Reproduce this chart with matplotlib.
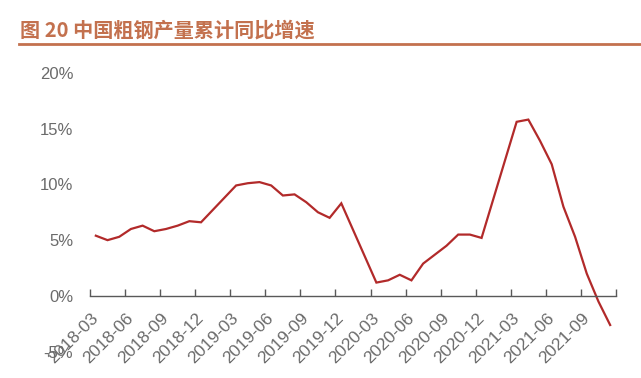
import numpy as np
import matplotlib
matplotlib.use("Agg")
import matplotlib.pyplot as plt
from matplotlib.ticker import FuncFormatter

# 粗钢产量累计同比 (%), 2018-03 .. 2021-11; Jan/Feb not published -> nan
months = [f"{y}-{m:02d}" for y in range(2018, 2022) for m in range(1, 13)][2:47]
growth = [
    5.4, 5.0, 5.3, 6.0, 6.3, 5.8, 6.0, 6.3, 6.7, 6.6,          # 2018-03..12
    np.nan, np.nan, 9.9, 10.1, 10.2, 9.9, 9.0, 9.1, 8.4, 7.5, 7.0, 8.3,   # 2019
    np.nan, np.nan, 1.2, 1.4, 1.9, 1.4, 2.9, 3.7, 4.5, 5.5, 5.5, 5.2,     # 2020
    np.nan, np.nan, 15.6, 15.8, 13.9, 11.8, 8.0, 5.3, 2.0, -0.5, -2.6,    # 2021-01..11
]
yticks = [-5, 0, 5, 10, 15, 20]

title = "图 20 中国粗钢产量累计同比增速"
title_color = "#C3714E"
line_color = "#B22A2A"
text_gray = "#6B6B6B"

plt.rcParams["font.family"] = ["Liberation Sans", "DejaVu Sans"]

fig = plt.figure(figsize=(6.41, 3.78), dpi=100)
ax = fig.add_axes([0.1404, 0.0693, 0.8206, 0.7384])

x = np.arange(len(months))
v = np.array(growth, dtype=float)
ok = ~np.isnan(v)
ax.plot(x[ok], v[ok], color=line_color, lw=1.6, solid_joinstyle="miter")

ax.set_xlim(-0.5, len(months) - 0.5)
ax.set_ylim(-5, 20)

for s in ["top", "right", "left"]:
    ax.spines[s].set_visible(False)
ax.spines["bottom"].set_position(("data", 0))
ax.spines["bottom"].set_color("#595959")
ax.spines["bottom"].set_linewidth(1.0)

# ticks between categories every 3 months, labels on the category
ax.set_xticks(np.arange(-0.5, len(months), 3))
ax.set_xticklabels([])
ax.tick_params(axis="x", which="major", direction="in", length=5, color="#595959", width=1.0)
lab_pos = x[::3]
ax.set_xticks(lab_pos, minor=True)
ax.set_xticklabels([months[i] for i in lab_pos], minor=True, rotation=45,
                   ha="right", va="center", rotation_mode="anchor",
                   color=text_gray, fontsize=12.5)
ax.tick_params(axis="x", which="minor", length=0, pad=14)

ax.set_yticks(yticks)
ax.yaxis.set_major_formatter(FuncFormatter(lambda t, p: f"{t:.0f}%"))
ax.tick_params(axis="y", length=0, labelcolor=text_gray, labelsize=12, pad=12)

fig.text(0.031, 0.921, title, color=title_color, fontsize=14.5, fontweight="bold",
         va="center", ha="left", family=["Noto Sans CJK SC", "DejaVu Sans"])
fig.add_artist(plt.Line2D([0.029, 1.0], [0.883, 0.883], transform=fig.transFigure,
                          color=title_color, lw=2))

fig.savefig("out.png", dpi=100)
